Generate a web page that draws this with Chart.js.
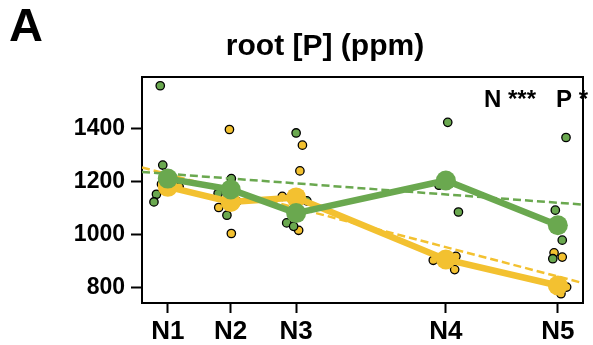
<!DOCTYPE html>
<html>
<head>
<meta charset="utf-8">
<script src="https://cdn.jsdelivr.net/npm/chart.js@4/dist/chart.umd.min.js"></script>
<style>
html,body{margin:0;padding:0;background:#fff;}
#c{display:block;}
</style>
</head>
<body>
<canvas id="c" width="593" height="345"></canvas>
<script>
// ---- data ----
const categories = ['N1', 'N2', 'N3', 'N4', 'N5'];
const categoryPos = [1, 2, 3.04, 5.42, 7.2];      // x position of each N level
const xRange = [0.59, 7.6];
const yTicks = [800, 1000, 1200, 1400];
const yRange = [742, 1594];

const greenMeans  = [1211, 1170, 1081, 1204, 1035];
const yellowMeans = [1180, 1123, 1140, 906, 808];

// individual observations (x = jittered position, y = value)
const greenObsX = [0.88, 0.92, 0.82, 0.78, 2.01, 1.94, 1.80, 3.04, 2.89, 3.00, 3.21, 5.45, 5.62, 5.31, 7.33, 7.16, 7.27, 7.12];
const greenObsY = [1561, 1262, 1152, 1123, 1211, 1073, 1155, 1383, 1044, 1031, 1127, 1423, 1085, 1186, 1366, 1092, 979, 909];
const yellowObsX = [1.18, 1.03, 0.90, 1.98, 1.81, 2.01, 2.10, 3.14, 3.10, 3.08, 2.82, 5.22, 5.58, 5.56, 7.14, 7.27, 7.34, 7.25];
const yellowObsY = [1180, 1165, 1190, 1396, 1102, 1004, 1125, 1337, 1240, 1016, 1144, 903, 918, 868, 931, 915, 802, 777];

// regression (dashed) lines: values at the left and right edge of the panel
const greenTrend  = [1236, 1113];
const yellowTrend = [1253, 817];

const GREEN = '#6aa84f';
const YELLOW = '#f3c130';
const FONT = '"Liberation Sans", Arial, Helvetica, sans-serif';

const pts = (xs, ys) => xs.map((x, i) => ({x: x, y: ys[i]}));

const decor = {
  id: 'decor',
  afterDraw(chart) {
    const {ctx, chartArea: a} = chart;
    ctx.save();
    ctx.strokeStyle = '#000';
    ctx.lineWidth = 2;
    ctx.beginPath();
    ctx.moveTo(a.left - 1, a.top);
    ctx.lineTo(a.right, a.top);
    ctx.lineTo(a.right, a.bottom + 1);
    ctx.stroke();
    ctx.fillStyle = '#000';
    ctx.textBaseline = 'alphabetic';
    ctx.font = 'bold 47px ' + FONT;
    ctx.textAlign = 'left';
    ctx.fillText('A', 9, 41);
    ctx.font = 'bold 30px ' + FONT;
    ctx.textAlign = 'center';
    ctx.fillText('root [P] (ppm)', 325, 55);
    ctx.font = 'bold 24px ' + FONT;
    ctx.textAlign = 'right';
    ctx.fillText('N ***   P *', 588, 107);
    ctx.restore();
  }
};

new Chart(document.getElementById('c'), {
  data: {
    datasets: [
      { type: 'line', data: pts(categoryPos, greenMeans), borderColor: GREEN, backgroundColor: GREEN,
        borderWidth: 6.5, pointRadius: 10, pointBorderWidth: 0, pointBackgroundColor: GREEN, tension: 0 },
      { type: 'line', data: pts(categoryPos, yellowMeans), borderColor: YELLOW, backgroundColor: YELLOW,
        borderWidth: 6.5, pointRadius: 10, pointBorderWidth: 0, pointBackgroundColor: YELLOW, tension: 0 },
      { type: 'line', data: pts(xRange, greenTrend), borderColor: GREEN, borderWidth: 2.5,
        borderDash: [8, 4], pointRadius: 0 },
      { type: 'line', data: pts(xRange, yellowTrend), borderColor: YELLOW, borderWidth: 2.5,
        borderDash: [8, 4], pointRadius: 0 },
      { type: 'scatter', data: pts(greenObsX, greenObsY), pointRadius: 4.2, pointBorderWidth: 1.3,
        pointBorderColor: '#000', pointBackgroundColor: GREEN },
      { type: 'scatter', data: pts(yellowObsX, yellowObsY), pointRadius: 4.2, pointBorderWidth: 1.3,
        pointBorderColor: '#000', pointBackgroundColor: YELLOW }
    ]
  },
  options: {
    responsive: false,
    animation: false,
    devicePixelRatio: 1,
    layout: { padding: { left: 0, right: 2, top: 77, bottom: 0 } },
    plugins: { legend: { display: false }, tooltip: { enabled: false } },
    scales: {
      x: {
        type: 'linear', min: xRange[0], max: xRange[1],
        afterBuildTicks(s) { s.ticks = categoryPos.map(v => ({value: v})); },
        afterFit(s) { s.height = 42; },
        ticks: { autoSkip: false, maxRotation: 0, padding: 3, color: '#000',
          font: { family: FONT, size: 26, weight: 'bold' },
          callback(v) { const i = categoryPos.indexOf(v); return i >= 0 ? categories[i] : ''; } },
        grid: { drawOnChartArea: false, drawTicks: true, tickLength: 10, tickWidth: 2, tickColor: '#000' },
        border: { display: true, width: 2, color: '#000' }
      },
      y: {
        type: 'linear', min: yRange[0], max: yRange[1],
        afterBuildTicks(s) { s.ticks = yTicks.map(v => ({value: v})); },
        afterFit(s) { s.width = 142; },
        ticks: { padding: 6, color: '#000', font: { family: FONT, size: 23, weight: 'bold' },
          callback(v) { return String(v); } },
        grid: { drawOnChartArea: false, drawTicks: true, tickLength: 11, tickWidth: 2, tickColor: '#000' },
        border: { display: true, width: 2, color: '#000' }
      }
    }
  },
  plugins: [decor]
});
</script>
</body>
</html>
